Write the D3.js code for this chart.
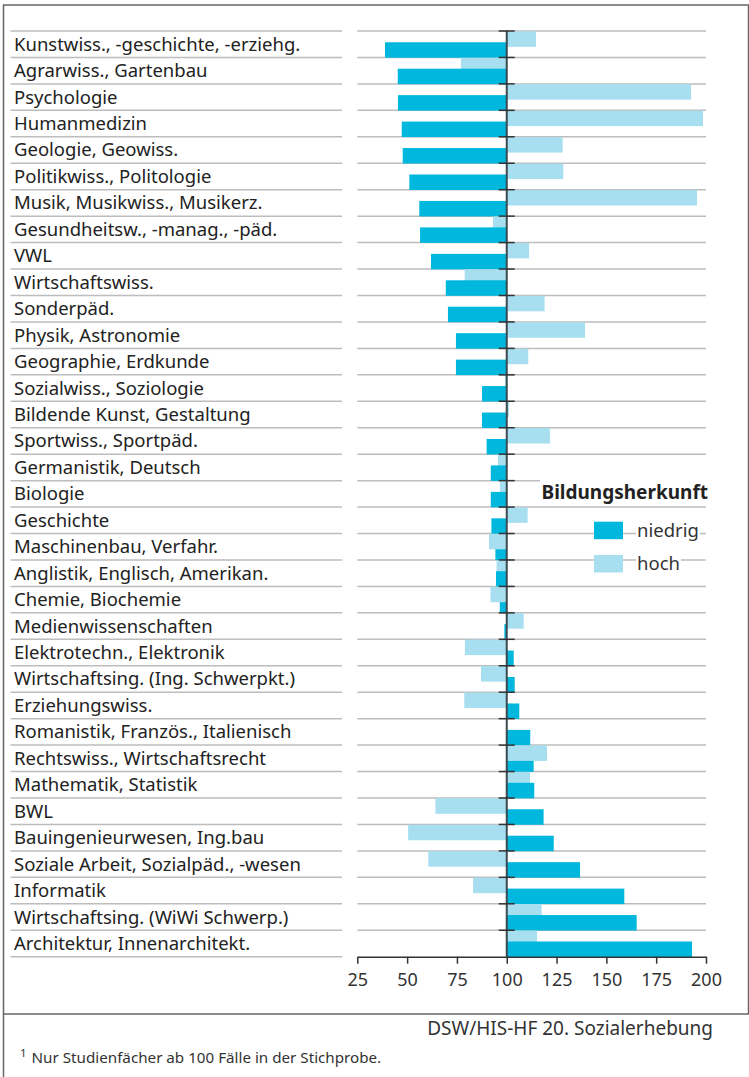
<!DOCTYPE html>
<html>
<head>
<meta charset="utf-8">
<script src="https://cdn.jsdelivr.net/npm/d3@7"></script>
<style>
  body { margin: 0; background: #fff; }
  svg { display: block; font-family: "Noto Sans", sans-serif; }
</style>
</head>
<body>
<div class="chart"></div>
<script>

// Studienfächer, top to bottom
const categories = [
  "Kunstwiss., -geschichte, -erziehg.",
  "Agrarwiss., Gartenbau",
  "Psychologie",
  "Humanmedizin",
  "Geologie, Geowiss.",
  "Politikwiss., Politologie",
  "Musik, Musikwiss., Musikerz.",
  "Gesundheitsw., -manag., -päd.",
  "VWL",
  "Wirtschaftswiss.",
  "Sonderpäd.",
  "Physik, Astronomie",
  "Geographie, Erdkunde",
  "Sozialwiss., Soziologie",
  "Bildende Kunst, Gestaltung",
  "Sportwiss., Sportpäd.",
  "Germanistik, Deutsch",
  "Biologie",
  "Geschichte",
  "Maschinenbau, Verfahr.",
  "Anglistik, Englisch, Amerikan.",
  "Chemie, Biochemie",
  "Medienwissenschaften",
  "Elektrotechn., Elektronik",
  "Wirtschaftsing. (Ing. Schwerpkt.)",
  "Erziehungswiss.",
  "Romanistik, Französ., Italienisch",
  "Rechtswiss., Wirtschaftsrecht",
  "Mathematik, Statistik",
  "BWL",
  "Bauingenieurwesen, Ing.bau",
  "Soziale Arbeit, Sozialpäd., -wesen",
  "Informatik",
  "Wirtschaftsing. (WiWi Schwerp.)",
  "Architektur, Innenarchitekt."
];

// Bildungsherkunft niedrig
const niedrig = [38.9, 45.3, 45.4, 47.3, 47.8, 51.1, 56.1, 56.5, 62, 69.4,
  70.5, 74.5, 74.5, 87.6, 87.6, 89.9, 92, 92, 92.3, 94.3,
  94.6, 96.5, 98.8, 103.5, 104, 106.3, 111.8, 113.5, 113.8, 118.5,
  123.6, 136.8, 159, 165.2, 193];

// Bildungsherkunft hoch
const hoch = [114.7, 77, 192.5, 198.5, 128.1, 128.4, 195.5, 93.1, 111.2, 78.9,
  119, 139.3, 110.8, 99.1, 101.1, 121.7, 95.6, 96.6, 110.5, 91.1,
  94.9, 91.8, 108.5, 79, 87.1, 78.7, 100, 120.2, 111.7, 64.2,
  50.5, 60.6, 83.1, 117.5, 115.2];

const ticks = [25, 50, 75, 100, 125, 150, 175, 200];

const colors = {niedrig: "#00b8de", hoch: "#a8dff0"};

document.addEventListener('DOMContentLoaded', () => {

  const width = 749, height = 1077;
  const base = 100;

  const svg = d3.select('.chart').append('svg')
    .attr('width', width)
    .attr('height', height);

  // frame
  svg.append('rect')
    .attr('x', 3.5).attr('y', 5)
    .attr('width', 745).attr('height', 1009)
    .attr('fill', 'none')
    .attr('stroke', '#666')
    .attr('stroke-width', 1.5);
  svg.append('line')
    .attr('x1', 3.5).attr('x2', 3.5)
    .attr('y1', 1014).attr('y2', height)
    .attr('stroke', '#666').attr('stroke-width', 1.5);

  const x = d3.scaleLinear().domain([25, 200]).range([357.3, 706]);
  const y = d3.scaleBand().domain(categories).range([31, 956.7]);
  const rowH = y.bandwidth();
  const barH = 15.5;

  // gridlines (label side and plot side)
  const lines = d3.range(categories.length + 1).map(i => 31 + i * rowH);
  svg.selectAll('.grid-l').data(lines).enter().append('line')
    .attr('x1', 10.5).attr('x2', 342)
    .attr('y1', d => d).attr('y2', d => d)
    .attr('stroke', '#bdbdbd').attr('stroke-width', 1.5);
  svg.selectAll('.grid-r').data(lines.slice(0, -1)).enter().append('line')
    .attr('x1', x(25)).attr('x2', x(200))
    .attr('y1', d => d).attr('y2', d => d)
    .attr('stroke', '#bdbdbd').attr('stroke-width', 1.5);

  // category labels
  svg.selectAll('.label').data(categories).enter().append('text')
    .attr('x', 14)
    .attr('y', d => y(d) + rowH / 2)
    .attr('dy', '0.35em')
    .attr('font-size', 18.5)
    .attr('fill', '#222')
    .text(d => d);

  // bars: per row the shorter bar first, so the longer one lies on top
  const bars = [];
  categories.forEach((c, i) => {
    const pair = [
      {cat: c, key: 'hoch', v: hoch[i], off: 0.3},
      {cat: c, key: 'niedrig', v: niedrig[i], off: rowH - barH + 0.3}
    ];
    pair.sort((a, b) => Math.abs(a.v - base) - Math.abs(b.v - base));
    bars.push(...pair);
  });

  svg.selectAll('.bar').data(bars).enter().append('rect')
    .attr('x', d => x(Math.min(d.v, base)))
    .attr('width', d => Math.abs(x(d.v) - x(base)))
    .attr('y', d => y(d.cat) + d.off)
    .attr('height', barH)
    .attr('fill', d => colors[d.key]);

  // centre line at 100 with small ticks at each gridline
  svg.append('line')
    .attr('x1', x(base)).attr('x2', x(base))
    .attr('y1', 31).attr('y2', 956.7)
    .attr('stroke', '#3a4a50').attr('stroke-width', 2);
  svg.selectAll('.ctick').data(lines.slice(0, -1)).enter().append('line')
    .attr('x1', x(base) - 8).attr('x2', x(base) + 8)
    .attr('y1', d => d).attr('y2', d => d)
    .attr('stroke', '#333').attr('stroke-width', 1.5);

  // x axis
  const axis = svg.append('g')
    .attr('transform', 'translate(0,956.7)')
    .call(d3.axisBottom(x).tickValues(ticks).tickSize(7).tickSizeOuter(0).tickPadding(10));
  axis.select('.domain').attr('stroke', '#333').attr('stroke-width', 1.5);
  axis.selectAll('.tick line').attr('stroke', '#333').attr('stroke-width', 1.5);
  axis.selectAll('.tick text')
    .attr('font-size', 18)
    .attr('font-family', '"Noto Sans", sans-serif')
    .attr('fill', '#333');

  // legend
  const leg = svg.append('g');
  leg.append('rect')
    .attr('x', 540).attr('y', 478).attr('width', 170).attr('height', 26)
    .attr('fill', '#fff');
  leg.append('text')
    .attr('x', 708).attr('y', 492).attr('dy', '0.35em')
    .attr('text-anchor', 'end')
    .attr('font-size', 19).attr('font-weight', 'bold')
    .attr('fill', '#222')
    .text('Bildungsherkunft');

  const legItems = [
    {key: 'niedrig', y: 521.7},
    {key: 'hoch', y: 555}
  ];
  legItems.forEach(item => {
    leg.append('rect')
      .attr('x', 594).attr('y', item.y)
      .attr('width', 29).attr('height', 17.5)
      .attr('fill', colors[item.key]);
    const t = leg.append('text')
      .attr('x', 637).attr('y', item.y + 9).attr('dy', '0.35em')
      .attr('font-size', 18.5).attr('fill', '#333')
      .text(item.key);
    const bb = t.node().getBBox();
    leg.insert('rect', () => t.node())
      .attr('x', bb.x - 1).attr('y', bb.y)
      .attr('width', bb.width + 2).attr('height', bb.height)
      .attr('fill', '#fff');
  });

  // source and footnote
  svg.append('text')
    .attr('x', 713).attr('y', 1035)
    .attr('text-anchor', 'end')
    .attr('font-size', 19).attr('fill', '#333')
    .text('DSW/HIS-HF 20. Sozialerhebung');

  const foot = svg.append('text')
    .attr('x', 20).attr('y', 1063)
    .attr('font-size', 15.2).attr('fill', '#333');
  foot.append('tspan').attr('font-size', 11.5).attr('dy', -6).text('1');
  foot.append('tspan').attr('dy', 6).attr('dx', 5).text('Nur Studienfächer ab 100 Fälle in der Stichprobe.');
});
</script>
</body>
</html>
